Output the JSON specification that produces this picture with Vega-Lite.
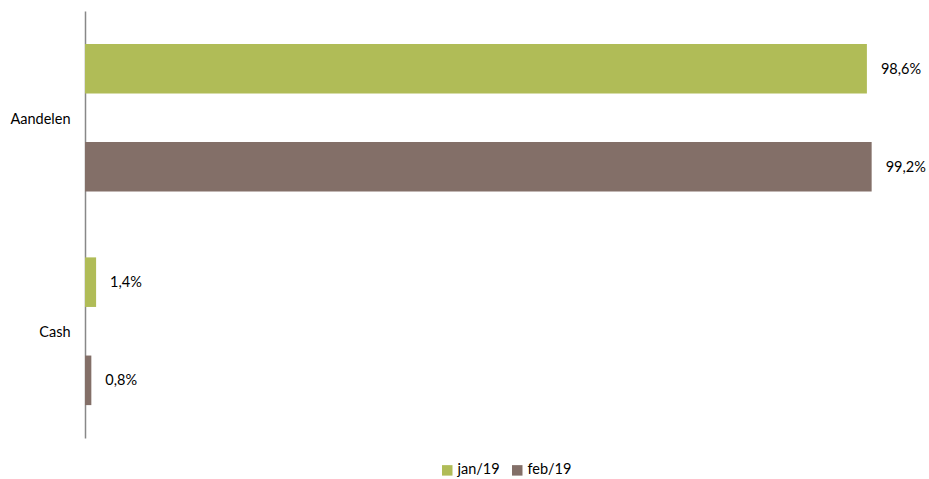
{
  "$schema": "https://vega.github.io/schema/vega-lite/v6.json",
  "width": 793,
  "height": 427,
  "autosize": {"type": "none"},
  "padding": {"left": 85, "top": 11, "right": 51, "bottom": 41},
  "background": "white",
  "config": {"view": {"stroke": null}, "font": "Lato"},
  "data": {"values": [
    {"categorie": "Aandelen", "maand": "jan/19", "waarde": 0.986, "label": "98,6%"},
    {"categorie": "Aandelen", "maand": "feb/19", "waarde": 0.992, "label": "99,2%"},
    {"categorie": "Cash", "maand": "jan/19", "waarde": 0.014, "label": "1,4%"},
    {"categorie": "Cash", "maand": "feb/19", "waarde": 0.008, "label": "0,8%"}
  ]},
  "encoding": {
    "y": {"field": "categorie", "type": "nominal", "sort": ["Aandelen", "Cash"],
      "scale": {"paddingInner": 0, "paddingOuter": 0},
      "axis": {"title": null, "ticks": false, "domainColor": "#888888", "domainWidth": 1.5, "labelFontSize": 14.5, "labelColor": "#000000", "labelPadding": 15, "labelFont": "Lato", "labelBaseline": "middle", "labelOffset": 2}},
    "yOffset": {"field": "maand", "type": "nominal", "sort": ["jan/19", "feb/19"],
      "scale": {"paddingInner": 0.495, "paddingOuter": 0.335}},
    "x": {"field": "waarde", "type": "quantitative", "scale": {"domain": [0, 1], "nice": false}, "axis": null}
  },
  "layer": [
    {
      "mark": {"type": "bar"},
      "encoding": {
        "color": {"field": "maand", "type": "nominal", "sort": ["jan/19", "feb/19"],
          "scale": {"domain": ["jan/19", "feb/19"], "range": ["#b0bc57", "#836f68"]},
          "legend": {"title": null, "orient": "none", "direction": "horizontal", "legendX": 355, "legendY": 452, "symbolType": "square", "symbolSize": 110, "symbolStrokeWidth": 0, "labelFontSize": 14.5, "labelColor": "#000000", "columnPadding": 10, "labelOffset": 3, "labelFont": "Lato"}}
      }
    },
    {
      "mark": {"type": "text", "align": "left", "baseline": "middle", "dx": 14, "dy": 1, "fontSize": 14.5, "color": "#000000", "font": "Lato"},
      "encoding": {"text": {"field": "label"}}
    }
  ]
}
